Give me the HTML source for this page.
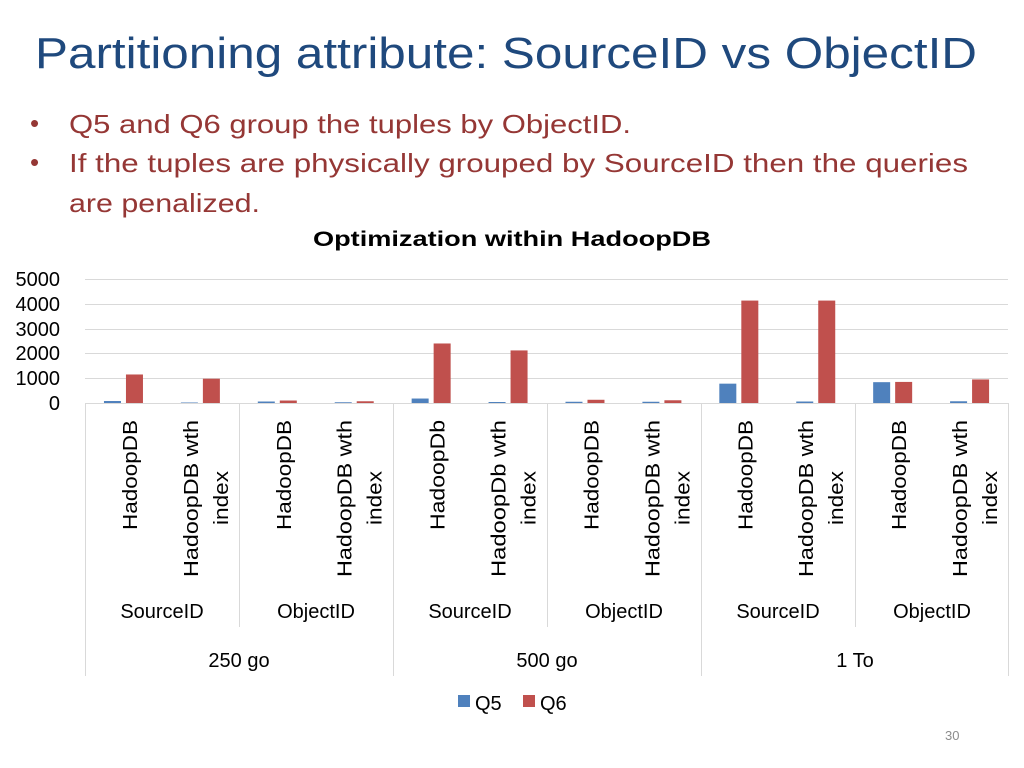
<!DOCTYPE html>
<html><head><meta charset="utf-8"><style>
html,body{margin:0;padding:0;background:#fff;}
svg{display:block;font-family:"Liberation Sans",sans-serif;}
</style></head><body>
<svg width="1024" height="768" viewBox="0 0 1024 768" xmlns="http://www.w3.org/2000/svg">
<text x="35" y="68" font-size="44" fill="#1F497D" textLength="942" lengthAdjust="spacingAndGlyphs">Partitioning attribute: SourceID vs ObjectID</text>
<g fill="#953735" font-size="26">
<text x="30" y="132">•</text>
<text x="69" y="133" textLength="562" lengthAdjust="spacingAndGlyphs">Q5 and Q6 group the tuples by ObjectID.</text>
<text x="30" y="171">•</text>
<text x="69" y="172" textLength="899" lengthAdjust="spacingAndGlyphs">If the tuples are physically grouped by SourceID  then the queries</text>
<text x="69" y="212" textLength="191" lengthAdjust="spacingAndGlyphs">are penalized.</text>
</g>
<text x="512" y="246" font-size="21" font-weight="bold" text-anchor="middle" textLength="398" lengthAdjust="spacingAndGlyphs">Optimization within HadoopDB</text>
<g stroke="#d9d9d9" stroke-width="1">
<line x1="85" y1="279.5" x2="1008" y2="279.5"/>
<line x1="85" y1="304.5" x2="1008" y2="304.5"/>
<line x1="85" y1="329.5" x2="1008" y2="329.5"/>
<line x1="85" y1="353.5" x2="1008" y2="353.5"/>
<line x1="85" y1="378.5" x2="1008" y2="378.5"/>
<line x1="85" y1="403.5" x2="1008" y2="403.5"/>
<line x1="239.5" y1="403" x2="239.5" y2="627"/>
<line x1="547.5" y1="403" x2="547.5" y2="627"/>
<line x1="855.5" y1="403" x2="855.5" y2="627"/>
<line x1="85.5" y1="403" x2="85.5" y2="676"/>
<line x1="393.5" y1="403" x2="393.5" y2="676"/>
<line x1="701.5" y1="403" x2="701.5" y2="676"/>
<line x1="1008.5" y1="403" x2="1008.5" y2="676"/>
</g>
<g font-size="20" text-anchor="end">
<text x="60" y="286">5000</text>
<text x="60" y="311">4000</text>
<text x="60" y="336">3000</text>
<text x="60" y="360">2000</text>
<text x="60" y="385">1000</text>
<text x="60" y="410">0</text>
</g>
<g id="bars"></g>
<g id="labels" font-size="20"></g>
<g font-size="20" text-anchor="middle">
<text x="162" y="618">SourceID</text>
<text x="316" y="618">ObjectID</text>
<text x="470" y="618">SourceID</text>
<text x="624" y="618">ObjectID</text>
<text x="778" y="618">SourceID</text>
<text x="932" y="618">ObjectID</text>
<text x="239" y="667">250 go</text>
<text x="547" y="667">500 go</text>
<text x="855" y="667">1 To</text>
</g>
<rect x="458" y="695" width="12" height="12" fill="#4F81BD"/>
<text x="475" y="710" font-size="20">Q5</text>
<rect x="523" y="695" width="12" height="12" fill="#C0504D"/>
<text x="540" y="710" font-size="20">Q6</text>
<text x="945" y="740" font-size="13" fill="#8c8c8c">30</text>
<script>
var q5=[80,20,60,30,180,40,50,50,780,60,840,70];
var q6=[1150,980,100,70,2400,2120,130,110,4130,4130,850,950];
var names=["HadoopDB","HadoopDB wth|index","HadoopDB","HadoopDB wth|index","HadoopDb","HadoopDb wth|index","HadoopDB","HadoopDB wth|index","HadoopDB","HadoopDB wth|index","HadoopDB","HadoopDB wth|index"];
var ns="http://www.w3.org/2000/svg",b=document.getElementById("bars"),L=document.getElementById("labels");
function r(x,v,c){var h=v*0.0248;var e=document.createElementNS(ns,"rect");e.setAttribute("x",x);e.setAttribute("y",403-h);e.setAttribute("width",17);e.setAttribute("height",h);e.setAttribute("fill",c);b.appendChild(e);}
function t(x,y,anc,s,len){var e=document.createElementNS(ns,"text");e.setAttribute("transform","translate("+x+","+y+") rotate(-90)");e.setAttribute("text-anchor",anc);e.setAttribute("textLength",len);e.setAttribute("lengthAdjust","spacingAndGlyphs");e.textContent=s;L.appendChild(e);}
for(var i=0;i<12;i++){var c=85+76.92*(i+0.5);r(c-19.5,q5[i],"#4F81BD");r(c+2.5,q6[i],"#C0504D");
var p=names[i].split("|");if(p.length==1){t(c+13.5,420,"end",p[0],110);}else{t(c-2.5,420,"end",p[0],157);t(c+27.5,498,"middle",p[1],54);}}
</script>
</svg>
</body></html>
